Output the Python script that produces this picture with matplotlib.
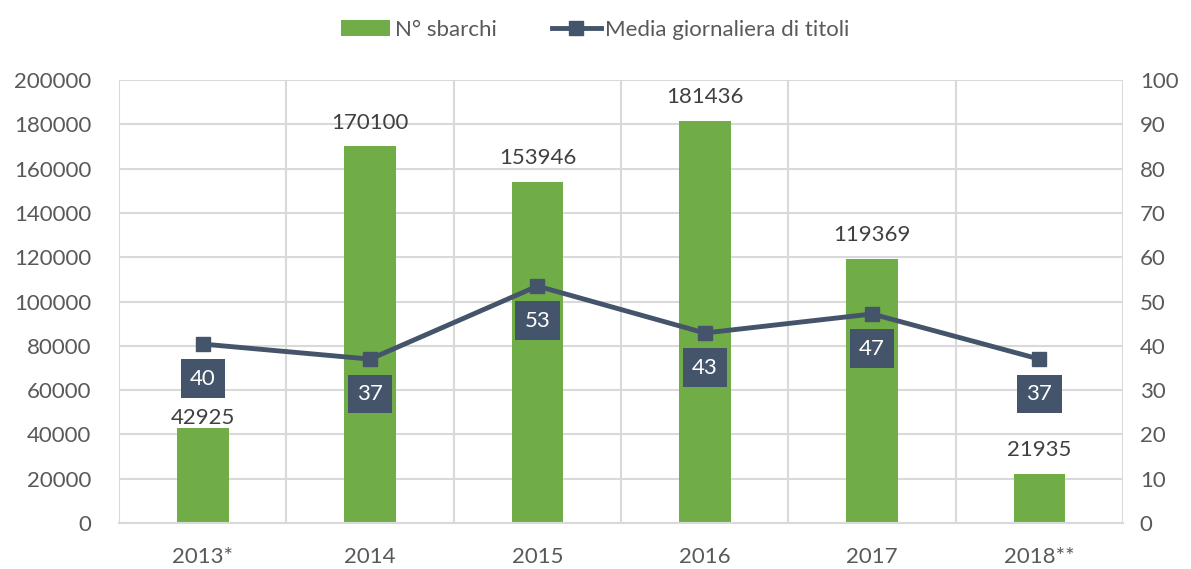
import numpy as np
import matplotlib
matplotlib.use("Agg")
import matplotlib.pyplot as plt
from matplotlib.patches import Patch
from matplotlib.lines import Line2D

plt.rcParams['font.family'] = ['Lato', 'DejaVu Sans']

years = ["2013*", "2014", "2015", "2016", "2017", "2018**"]
sbarchi = [42925, 170100, 153946, 181436, 119369, 21935]
media = [40.4, 37.0, 53.5, 42.9, 47.2, 37.0]
media_labels = ["40", "37", "53", "43", "47", "37"]

green = "#70AD47"
navy = "#44546A"
grid_c = "#D9D9D9"
txt = "#595959"

fig = plt.figure(figsize=(11.91, 5.69), dpi=100)
ax = fig.add_axes([0.1, 0.081, 0.843, 0.778])
ax2 = ax.twinx()

x = np.arange(len(years))
ax.bar(x, sbarchi, width=0.31, color=green, zorder=2)
# the 2013 label sits lower, just under the line's label box
lab_off = {0: 0}
for xi, v in zip(x, sbarchi):
    ax.annotate(str(v), (xi, v), xytext=(0, lab_off.get(xi, 10)), textcoords="offset points",
                ha="center", va="bottom", fontsize=16, color="#404040")

ax.set_xlim(-0.5, len(years) - 0.5)
ax.set_ylim(0, 200000)
ax.set_yticks(np.arange(0, 200001, 20000))
ax.set_xticks(x)
ax.set_xticklabels(years)
ax.set_xticks(np.arange(-0.5, len(years), 1), minor=True)
ax.grid(axis="y", color=grid_c, lw=1.5, zorder=0)
ax.grid(axis="x", which="minor", color=grid_c, lw=1.5, zorder=0)
ax.set_axisbelow(True)
ax.tick_params(axis="both", which="both", length=0, labelsize=16, labelcolor=txt)
ax.tick_params(axis="x", pad=17)
ax.tick_params(axis="y", pad=20)
for s in ["top", "left", "right"]:
    ax.spines[s].set_visible(False)
ax.spines["bottom"].set_color(grid_c)
ax.spines["bottom"].set_linewidth(1.5)

ax2.plot(x, media, color=navy, lw=3.5, marker="s", markersize=10, zorder=3)
for xi, v, lab in zip(x, media, media_labels):
    ax2.annotate(lab, (xi, v), xytext=(0, -25), textcoords="offset points",
                 ha="center", va="center", fontsize=16, color="white",
                 bbox=dict(boxstyle="square,pad=0.42", fc=navy, ec="none"), zorder=4)
ax2.set_ylim(0, 100)
ax2.set_yticks(np.arange(0, 101, 10))
ax2.tick_params(axis="y", length=0, labelsize=16, labelcolor=txt, pad=12)
for s in ["top", "left", "right", "bottom"]:
    ax2.spines[s].set_visible(False)

handles = [Patch(facecolor=green, edgecolor="none"),
           Line2D([0], [0], color=navy, lw=3.5, marker="s", markersize=10)]
fig.legend(handles, ["N° sbarchi", "Media giornaliera di titoli"], loc="upper center",
           bbox_to_anchor=(0.5, 1.0), ncol=2, frameon=False, fontsize=16,
           labelcolor=txt, handlelength=2.2, handletextpad=0.2, columnspacing=2.5)

fig.savefig("out.png", dpi=100)
